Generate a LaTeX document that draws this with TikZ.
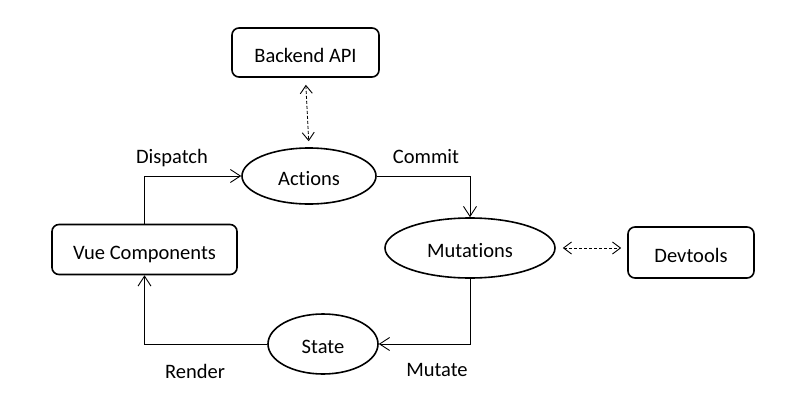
\documentclass[tikz,border=0pt]{standalone}
\usepackage{fontspec}
\setmainfont{Carlito}[Ligatures=NoCommon]
\usetikzlibrary{shapes.geometric,arrows.meta}

\begin{document}
\begin{tikzpicture}[x=1pt,y=-1pt,font=\fontsize{20.5}{24}\selectfont,
		box/.style={draw,line width=1.6pt,rounded corners=7pt,inner sep=0pt,text height=19pt,text depth=0pt},
		oval/.style={draw,ellipse,line width=1.6pt,inner sep=0pt,text height=19pt,text depth=0pt},
		flow/.style={line width=0.9pt,-{Straight Barb[length=10pt,width=13pt]}},
		sync/.style={line width=0.9pt,dashed,dash pattern=on 3pt off 2pt,
			{Straight Barb[length=8pt,width=12pt]}-{Straight Barb[length=8pt,width=12pt]},shorten <=7pt,shorten >=6pt}]
		\useasboundingbox (0,0) rectangle (807,405);
		\node[box,minimum width=147pt,minimum height=49pt] (api) at (305.5,52.5) {Backend API};
		\node[oval,minimum width=134pt,minimum height=56pt] (act) at (309,176) {Actions};
		\node[box,minimum width=185pt,minimum height=50pt] (vue) at (144.5,249.5) {Vue Components};
		\node[oval,minimum width=170pt,minimum height=60pt] (mut) at (470,248) {Mutations};
		\node[box,minimum width=126pt,minimum height=51pt] (dev) at (691,252.5) {Devtools};
		\node[oval,minimum width=110pt,minimum height=60pt] (st) at (323,344) {State};
		\draw[flow] (vue.north) |- (act.west);
		\draw[flow] (act.east) -| (mut.north);
		\draw[flow] (mut.south) |- (st.east);
		\draw[flow] (st.west) -| (vue.south);
		\draw[sync] (api.south) -- (act.north);
		\draw[sync] (mut.east |- 0,248) -- (dev.west |- 0,248);
		\node (dispatch) at (172,158) {Dispatch};
		\node (commit) at (426,157) {Commit};
		\node (mutate) at (437,370) {Mutate};
		\node (render) at (195,371) {Render};
		\end{tikzpicture}
\end{document}
